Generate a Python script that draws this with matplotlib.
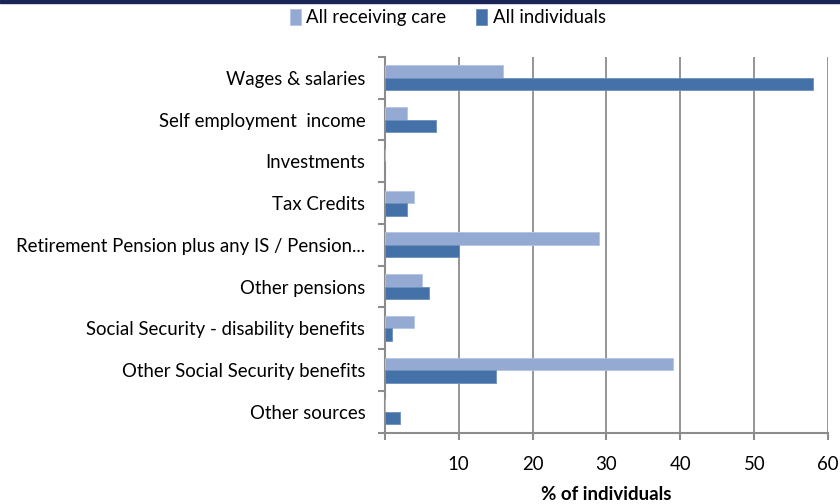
import matplotlib
matplotlib.use("Agg")
import matplotlib.pyplot as plt
import numpy as np

# Data
categories = [
    "Wages & salaries",
    "Self employment  income",
    "Investments",
    "Tax Credits",
    "Retirement Pension plus any IS / Pension...",
    "Other pensions",
    "Social Security - disability benefits",
    "Other Social Security benefits",
    "Other sources",
]
receiving_care = [16, 3, 0, 4, 29, 5, 4, 39, 0]
all_individuals = [58, 7, 0, 3, 10, 6, 1, 15, 2]
xticks = [10, 20, 30, 40, 50, 60]

light = "#95AAD2"
dark = "#4472A8"
axis_grey = "#8C8C8C"

plt.rcParams["font.family"] = ["Lato", "DejaVu Sans"]
fs = 13.4

fig = plt.figure(figsize=(8.4, 5.04), dpi=100)
ax = fig.add_axes([0.458, 0.1415, 0.528, 0.7455])

# dark strip at the very top of the image
fig.patches.append(plt.Rectangle((0, 0.994), 1, 0.006, transform=fig.transFigure,
                                 color="#1B2456", zorder=0))

y = np.arange(len(categories))
h = 0.3
ax.barh(y - h / 2, receiving_care, height=h, color=light, edgecolor="#B4C4E2",
        linewidth=0.6, label="All receiving care", zorder=3)
ax.barh(y + h / 2, all_individuals, height=h, color=dark, edgecolor="#6C90BE",
        linewidth=0.6, label="All individuals", zorder=3)

ax.set_ylim(len(categories) - 0.5, -0.5)
ax.set_xlim(0, 60)
ax.set_yticks(y)
ax.set_yticklabels(categories, fontsize=fs)
ax.set_yticks(np.arange(-0.5, len(categories), 1), minor=True)
ax.tick_params(axis="y", which="major", length=0, pad=14)
ax.tick_params(axis="y", which="minor", length=5, color=axis_grey, width=1.5)

ax.set_xticks([0] + xticks)
ax.set_xticklabels([""] + [str(v) for v in xticks], fontsize=fs)
ax.tick_params(axis="x", length=5, color=axis_grey, width=1.5, pad=12)
ax.grid(axis="x", color=axis_grey, linewidth=1.3, zorder=0)

for s in ["top", "right"]:
    ax.spines[s].set_visible(False)
for s in ["left", "bottom"]:
    ax.spines[s].set_color(axis_grey)
    ax.spines[s].set_linewidth(1.5)

ax.set_xlabel("% of individuals", fontsize=fs, fontweight="bold", labelpad=9)

fig.legend(loc="upper center", bbox_to_anchor=(0.533, 1.015), ncol=2, frameon=False,
           fontsize=fs, handlelength=0.6, handleheight=0.9, handletextpad=0.3,
           columnspacing=1.6)

fig.savefig("out.png", dpi=100)
